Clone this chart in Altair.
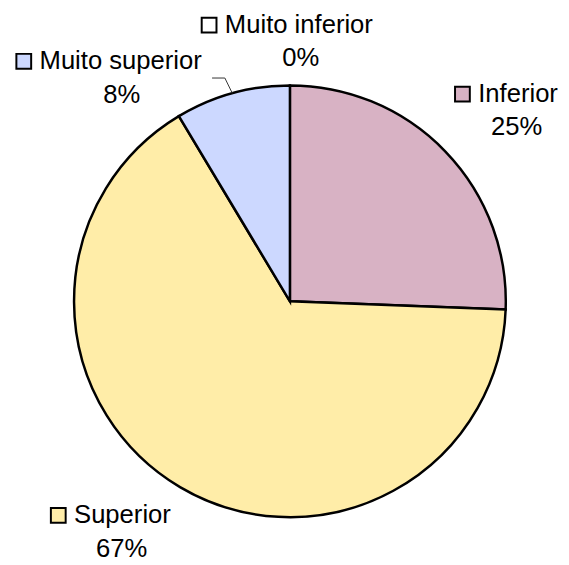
import math
import altair as alt
import pandas as pd

# ---- data ----
categories = ["Muito inferior", "Inferior", "Superior", "Muito superior"]
shares = [0.0, 25.6, 65.8, 8.6]          # slice sizes (as drawn)
pct_labels = ["0%", "25%", "67%", "8%"]   # data-label texts
colors = ["#FFFFFF", "#D8B2C4", "#FFEDA8", "#CCD8FF"]

# ---- layout (pixels, view coordinates) ----
W, H = 561, 557
CX, CY = 286, 293.5
R = 219
FONT = "Liberation Sans"
FS = 26
# per label: (left of name text, baseline line 1, centre of % text, baseline line 2)
label_layout = {
    "Muito inferior": (220, 21.3, 297, 55.3),
    "Inferior": (477, 91.3, 516, 124.7),
    "Superior": (67, 518.7, 115.3, 553),
    "Muito superior": (32, 58, 115.5, 92),
}

slices = pd.DataFrame({
    "cat": categories,
    "share": shares,
    "idx": list(range(len(categories))),
    "col": colors,
})

rows = []
for c, p, col in zip(categories, pct_labels, colors):
    tl, b1, pc, b2 = label_layout[c]
    rows.append({"cat": c, "pct": p, "col": col, "tx": tl, "b1": b1,
                 "pc": pc, "b2": b2, "sx": tl - 16, "sy": b1 - 8})
labels = pd.DataFrame(rows)

# leader line for "Muito superior": ends on the rim at the slice mid-angle
total = sum(shares)
start = sum(shares[:3])
mid = (start + shares[3] / 2) / total * 2 * math.pi
ex, ey = CX + R * math.sin(mid), CY - R * math.cos(mid)
tl, b1, _, _ = label_layout["Muito superior"]
leader = pd.DataFrame({
    "x": [tl + 175, tl + 188, ex],
    "y": [b1 + 9, b1 + 9, ey],
    "i": [0, 1, 2],
})

pie = alt.Chart(slices).mark_arc(outerRadius=R, stroke="black", strokeWidth=2.5).encode(
    theta=alt.Theta("share:Q", stack=True),
    order=alt.Order("idx:Q"),
    color=alt.Color("col:N", scale=None),
    x=alt.value(CX),
    y=alt.value(CY),
)

lead = alt.Chart(leader).mark_line(color="#333333", strokeWidth=1).encode(
    x=alt.X("x:Q", scale=None),
    y=alt.Y("y:Q", scale=None),
    order=alt.Order("i:Q"),
)

names = alt.Chart(labels).mark_text(
    align="left", baseline="alphabetic", font=FONT, fontSize=FS, color="black"
).encode(
    x=alt.X("tx:Q", scale=None),
    y=alt.Y("b1:Q", scale=None),
    text="cat:N",
)

pcts = alt.Chart(labels).mark_text(
    align="center", baseline="alphabetic", font=FONT, fontSize=FS, color="black"
).encode(
    x=alt.X("pc:Q", scale=None),
    y=alt.Y("b2:Q", scale=None),
    text="pct:N",
)

keys = alt.Chart(labels).mark_square(size=225, stroke="black", strokeWidth=2, opacity=1).encode(
    x=alt.X("sx:Q", scale=None),
    y=alt.Y("sy:Q", scale=None),
    fill=alt.Fill("col:N", scale=None),
)

chart = alt.layer(pie, lead, names, pcts, keys).properties(
    width=W, height=H, padding=0, autosize="none", background="white"
).configure_view(stroke=None)

chart.save("out.html", embed_options={"renderer": "svg", "actions": False})
